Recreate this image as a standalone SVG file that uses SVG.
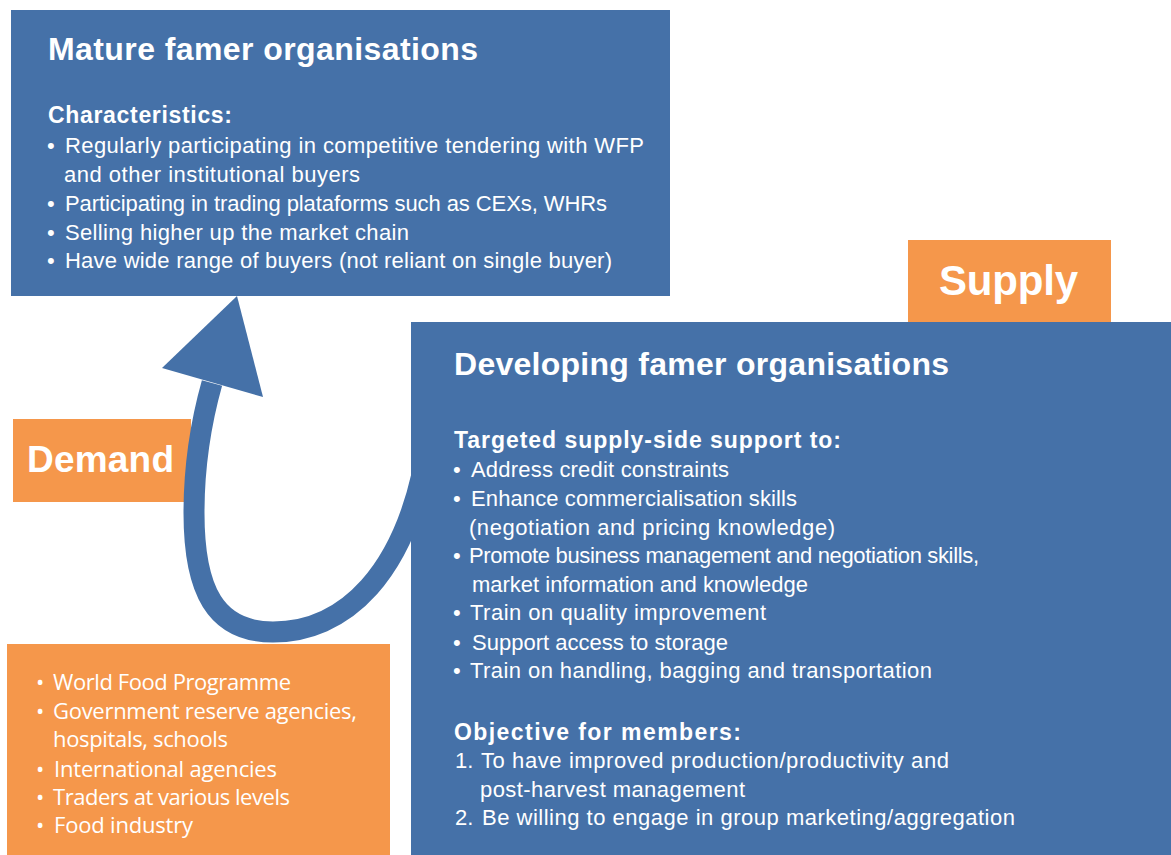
<svg xmlns="http://www.w3.org/2000/svg" width="1171" height="855" viewBox="0 0 1171 855">
<style>
.blue{fill:#4571a8}
.orange{fill:#f5974b}
.t{fill:#ffffff;font-family:"Liberation Sans",Arial,sans-serif}
.title{font-size:32px;font-weight:bold}
.head{font-size:23px;font-weight:bold}
.body{font-size:22px}
.big{font-weight:bold}
.os{fill:#ffffff;font-family:"Open Sans","Noto Sans",sans-serif;font-size:22px}
</style>
<rect width="1171" height="855" fill="#ffffff"/>

<g id="node-demand">
<rect class="orange" x="13" y="419" width="178" height="83"/>
<text class="t big" x="27" y="472" font-size="37" textLength="147">Demand</text>
</g>

<g id="node-buyers">
<rect class="orange" x="7" y="644" width="383" height="211"/>
<g class="os">
<text x="36" y="690">•</text><text x="53" y="690" textLength="238">World Food Programme</text>
<text x="36" y="719">•</text><text x="53" y="719" textLength="304">Government reserve agencies,</text>
<text x="53" y="747" textLength="175">hospitals, schools</text>
<text x="36" y="777">•</text><text x="54" y="777" textLength="223">International agencies</text>
<text x="36" y="805">•</text><text x="53" y="805" textLength="237">Traders at various levels</text>
<text x="36" y="833">•</text><text x="54" y="833" textLength="139">Food industry</text>
</g>
</g>

<g id="connectors">
<path d="M430 430 C410 580 340 632 273 632 C215 632 194 590 194 513 C194 460 203 415 212 383" fill="none" stroke="#4571a8" stroke-width="21"/>
<polygon points="162,368 237,296 263,397" fill="#4571a8"/>
</g>

<g id="node-mature">
<rect class="blue" x="11" y="10" width="659" height="286"/>
<text class="t title" x="48" y="60" textLength="430">Mature famer organisations</text>
<text class="t head" x="48" y="123" textLength="184">Characteristics:</text>
<g class="t body">
<text x="47" y="153">•</text><text x="65" y="153" textLength="579">Regularly participating in competitive tendering with WFP</text>
<text x="64" y="182" textLength="296">and other institutional buyers</text>
<text x="47" y="211">•</text><text x="65" y="211" textLength="542">Participating in trading plataforms such as CEXs, WHRs</text>
<text x="47" y="240">•</text><text x="65" y="240" textLength="344">Selling higher up the market chain</text>
<text x="47" y="268">•</text><text x="65" y="268" textLength="547">Have wide range of buyers (not reliant on single buyer)</text>
</g>
</g>

<g id="node-developing">
<rect class="blue" x="411" y="322" width="760" height="533"/>
<text class="t title" x="454" y="375" textLength="495">Developing famer organisations</text>
<text class="t head" x="454" y="448" textLength="387">Targeted supply-side support to:</text>
<g class="t body">
<text x="453" y="477">•</text><text x="471" y="477" textLength="258">Address credit constraints</text>
<text x="453" y="506">•</text><text x="471" y="506" textLength="326">Enhance commercialisation skills</text>
<text x="469" y="535" textLength="366">(negotiation and pricing knowledge)</text>
<text x="453" y="563">•</text><text x="469" y="563" textLength="510">Promote business management and negotiation skills,</text>
<text x="472" y="592" textLength="336">market information and knowledge</text>
<text x="453" y="620">•</text><text x="470" y="620" textLength="296">Train on quality improvement</text>
<text x="453" y="650">•</text><text x="472" y="650" textLength="256">Support access to storage</text>
<text x="453" y="678">•</text><text x="470" y="678" textLength="462">Train on handling, bagging and transportation</text>
</g>
<text class="t head" x="454" y="740" textLength="287">Objective for members:</text>
<g class="t body">
<text x="455" y="768">1.</text><text x="481" y="768" textLength="468">To have improved production/productivity and</text>
<text x="480" y="797" textLength="265">post-harvest management</text>
<text x="455" y="825">2.</text><text x="482" y="825" textLength="533">Be willing to engage in group marketing/aggregation</text>
</g>
</g>

<g id="node-supply">
<rect class="orange" x="908" y="240" width="203" height="82"/>
<text class="t big" x="939" y="295" font-size="42" textLength="139">Supply</text>
</g>
</svg>
